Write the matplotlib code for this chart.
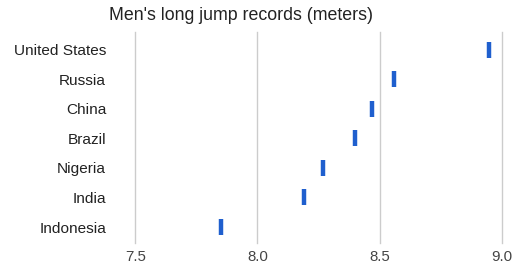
import matplotlib
matplotlib.use("Agg")
import matplotlib.pyplot as plt

countries = ["United States", "Russia", "China", "Brazil", "Nigeria", "India", "Indonesia"]
records = [8.95, 8.56, 8.47, 8.40, 8.27, 8.19, 7.85]
xticks = [7.5, 8.0, 8.5, 9.0]
xticklabels = ["7.5", "8.0", "8.5", "9.0"]

plt.rcParams['font.family'] = ['Liberation Sans', 'DejaVu Sans']

W, H = 531, 274
fig = plt.figure(figsize=(W / 100, H / 100), dpi=100)
left, right = 135.3 / W, 501.7 / W
top, bottom = 32.0 / H, 243.0 / H
ax = fig.add_axes([left, 1 - bottom, right - left, bottom - top])

ys = list(range(len(countries)))
ax.plot(records, ys, linestyle='none', marker='|', markersize=11.5,
        markeredgewidth=3.2, color='#1f5fce')

ax.set_xlim(7.5, 9.0)
ax.set_ylim(6.54, -0.6)
ax.set_yticks(ys)
ax.set_yticklabels(countries, fontsize=11.1, color='#222222')
ax.set_xticks(xticks)
ax.set_xticklabels(xticklabels, fontsize=10.8, color='#444444')
ax.tick_params(axis='y', length=0, pad=21)
ax.tick_params(axis='x', length=0, pad=5)
ax.grid(axis='x', color='#cccccc', linewidth=1)
ax.set_axisbelow(True)
for s in ax.spines.values():
    s.set_visible(False)
for gl in ax.get_xgridlines():
    gl.set_clip_on(False)

fig.text(241 / W, 1 - 16 / H, "Men's long jump records (meters)", fontsize=12.8,
         color='#222222', ha='center', va='center')

fig.savefig("out.png", dpi=100)
